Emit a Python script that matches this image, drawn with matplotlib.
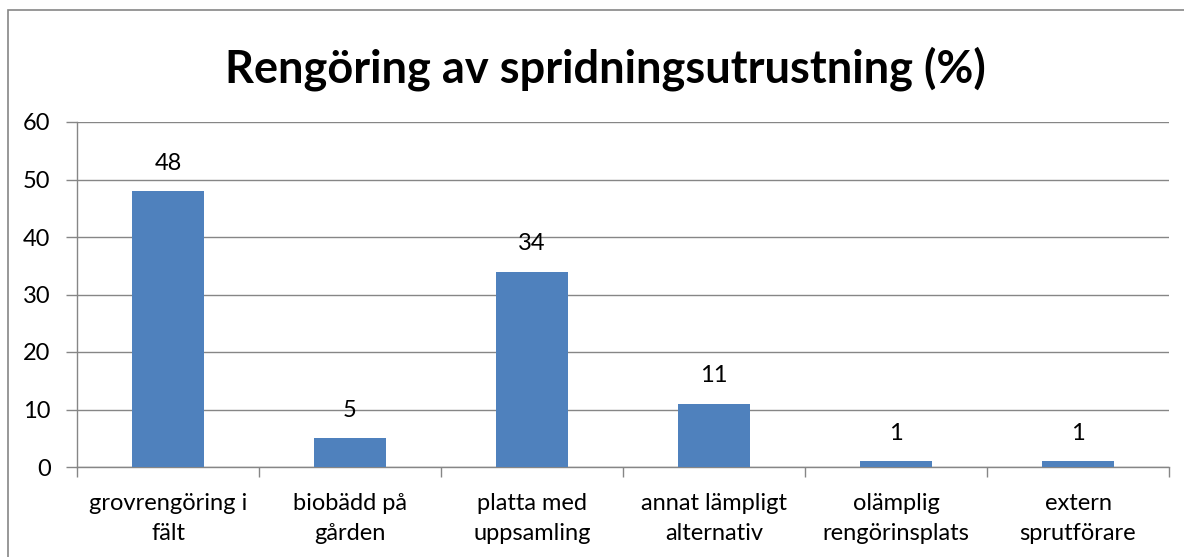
import matplotlib
matplotlib.use("Agg")
import matplotlib.pyplot as plt
from matplotlib.patches import Rectangle

categories = ["grovrengöring i\nfält", "biobädd på\ngården", "platta med\nuppsamling",
              "annat lämpligt\nalternativ", "olämplig\nrengörinsplats", "extern\nsprutförare"]
values = [48, 5, 34, 11, 1, 1]
yticks = [0, 10, 20, 30, 40, 50, 60]
title = "Rengöring av spridningsutrustning (%)"

plt.rcParams['font.family'] = ['Lato', 'DejaVu Sans']

W, H = 1184, 557
fig = plt.figure(figsize=(W/100, H/100), dpi=100)
fig.patches.append(Rectangle((8/W, 0 - 0.1), 1.2, 1 - 10/H + 0.1, transform=fig.transFigure,
                             fill=False, edgecolor='#868686', linewidth=1.2))

ax = fig.add_axes([77/W, 1-467/H, (1169-77)/W, (467-122)/H])
x = list(range(len(categories)))
ax.bar(x, values, width=0.396, color='#4F81BD', zorder=3)
for xi, v in zip(x, values):
    ax.annotate(str(v), (xi, v), xytext=(0, 20), textcoords='offset points',
                ha='center', va='center', fontsize=17)

ax.set_xlim(-0.5, len(categories) - 0.5)
ax.set_ylim(0, 60)
ax.set_yticks(yticks)
ax.tick_params(axis='y', length=8, width=1, color='#868686', labelsize=17, pad=11)
ax.set_xticks(x)
ax.set_xticklabels(categories, fontsize=17, linespacing=1.5)
ax.tick_params(axis='x', length=0, pad=19)
ax.set_xticks([i - 0.5 for i in range(len(categories) + 1)], minor=True)
ax.tick_params(axis='x', which='minor', length=7, width=1, color='#868686')

ax.grid(axis='y', color='#868686', linewidth=1, zorder=0)
for s in ['top', 'right']:
    ax.spines[s].set_visible(False)
for s in ['left', 'bottom']:
    ax.spines[s].set_color('#868686')
    ax.spines[s].set_linewidth(1)

fig.text(605/W, 1 - 69/H, title, ha='center', va='center', fontsize=32.5, fontweight='bold')

fig.savefig("out.png", dpi=100)
